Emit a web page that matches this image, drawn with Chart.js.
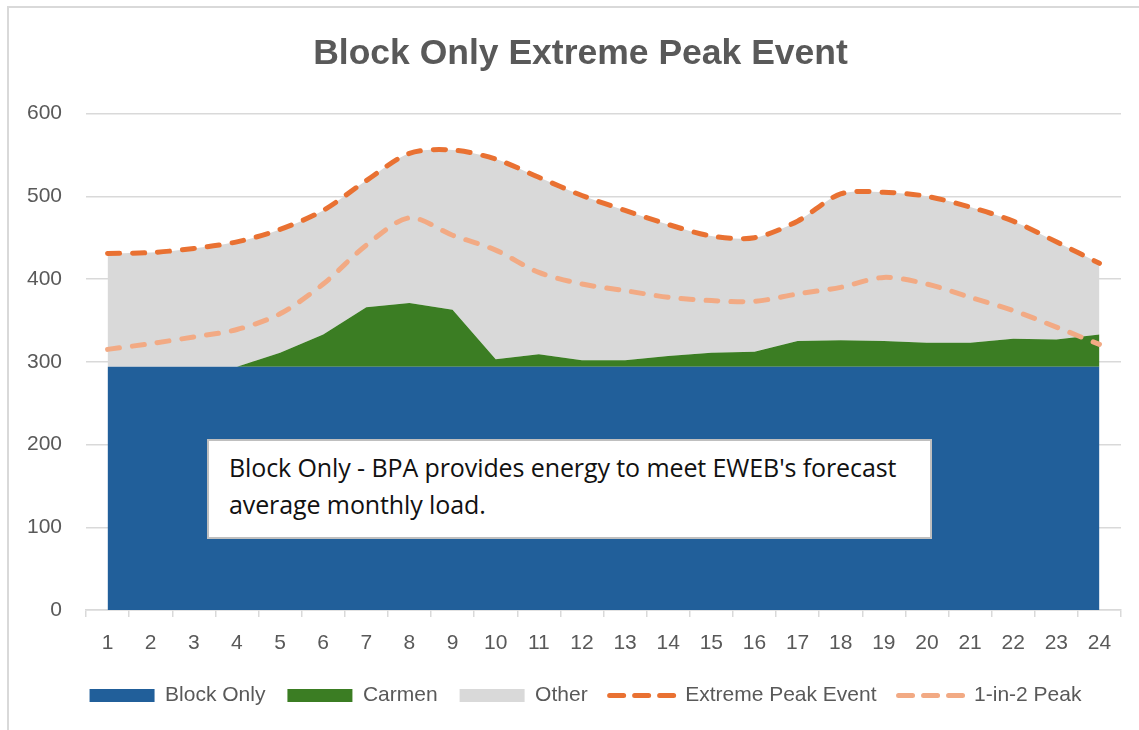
<!DOCTYPE html>
<html>
<head>
<meta charset="utf-8">
<script src="https://cdn.jsdelivr.net/npm/chart.js@4"></script>
<style>
  body { margin: 0; background: #fff; }
  #wrap { position: relative; width: 1139px; height: 730px; overflow: hidden; }
  #frame { position: absolute; left: 7px; top: 6px; width: 1200px; height: 800px; border: 2px solid #d9d9d9; box-sizing: border-box; }
  #note {
    position: absolute; left: 207px; top: 439px; width: 725px; height: 100px;
    box-sizing: border-box; border: 2px solid #bfbfbf; background: #fff;
    font-family: "Open Sans", sans-serif; font-size: 25px; line-height: 37px;
    color: #111; padding: 8px 0 0 20px; letter-spacing: -0.1px;
  }
</style>
</head>
<body>
<div id="wrap">
  <div id="frame"></div>
  <canvas id="chart" width="1139" height="730"></canvas>
  <div id="note">Block Only - BPA provides energy to meet EWEB's forecast<br>average monthly load.</div>
</div>
<script>
const hours = ['1','2','3','4','5','6','7','8','9','10','11','12','13','14','15','16','17','18','19','20','21','22','23','24'];
const blockOnly = [294,294,294,294,294,294,294,294,294,294,294,294,294,294,294,294,294,294,294,294,294,294,294,294];
const carmen = [0,0,0,0,17,39,72,77,69,9,15,8,8,13,17,18,31,32,31,29,29,34,33,39];
const other = [137,138,143,151,149,150,153,181,193,242,214,199,181,159,141,138,145,177,180,177,164,142,118,86];
const extremePeak = [431,432,437,445,460,483,519,552,556,545,523,501,483,466,452,450,470,503,505,500,487,470,445,419];
const oneInTwoPeak = [315,322,330,339,358,394,441,474,453,435,408,394,386,378,374,373,382,390,402,394,378,362,342,321];
const yTicks = [0,100,200,300,400,500,600];

const grey = '#595959';

// title and legend sit a bit right of the plot centre in the original
const shiftBlocks = {
  id: 'shiftBlocks',
  afterLayout(chart) {
    const t = chart.titleBlock, l = chart.legend;
    if (t) { t.left += 20; t.right += 20; }
    if (l) { l.left += 25; l.right += 25; }
  }
};

new Chart(document.getElementById('chart'), {
  type: 'line',
  data: {
    labels: hours,
    datasets: [
      { label: 'Block Only', data: blockOnly, backgroundColor: '#215f9a', borderWidth: 0, fill: 'origin', stack: 'areas', order: 1, tension: 0 },
      { label: 'Carmen', data: carmen, backgroundColor: '#3b7d23', borderWidth: 0, fill: '-1', stack: 'areas', order: 1, tension: 0 },
      { label: 'Other', data: other, backgroundColor: '#d9d9d9', borderWidth: 0, fill: '-1', stack: 'areas', order: 1, tension: 0.3 },
      { label: 'Extreme Peak Event', data: extremePeak, borderColor: '#e97132', borderWidth: 5, borderDash: [12, 13],
        borderCapStyle: 'round', fill: false, stack: 'ext', order: 0, tension: 0.3 },
      { label: '1-in-2 Peak', data: oneInTwoPeak, borderColor: '#f2aa84', borderWidth: 5, borderDash: [12, 13],
        borderCapStyle: 'round', fill: false, stack: 'peak', order: 0, tension: 0.3 }
    ]
  },
  plugins: [shiftBlocks],
  options: {
    responsive: false,
    animation: false,
    elements: { point: { radius: 0, hoverRadius: 0 } },
    layout: { padding: { left: 0, right: 18, top: 0, bottom: 14 } },
    plugins: {
      tooltip: { enabled: false },
      title: {
        display: true,
        text: 'Block Only Extreme Peak Event',
        color: grey,
        font: { family: '"Liberation Sans", Arial, sans-serif', size: 35.5, weight: 'bold' },
        padding: { top: 33, bottom: 38 }
      },
      legend: {
        position: 'bottom',
        labels: {
          usePointStyle: true,
          pointStyleWidth: 65,
          boxHeight: 13,
          padding: 22,
          color: grey,
          font: { family: '"Liberation Sans", Arial, sans-serif', size: 21 },
          generateLabels: (chart) => chart.data.datasets.map((ds, i) => ({
            text: ds.label,
            fillStyle: ds.fill ? ds.backgroundColor : 'rgba(0,0,0,0)',
            strokeStyle: ds.borderColor,
            lineWidth: ds.fill ? 0 : 5,
            lineDash: ds.fill ? [] : [14, 11],
            lineCap: 'round',
            pointStyle: ds.fill ? 'rect' : 'line',
            fontColor: grey,
            datasetIndex: i,
            hidden: false
          }))
        }
      }
    },
    scales: {
      x: {
        offset: true,
        grid: { display: true, drawOnChartArea: false, drawTicks: true, tickLength: 7, offset: true, color: '#d9d9d9', lineWidth: 1.5 },
        border: { display: true, color: '#d9d9d9', width: 1.5 },
        ticks: { color: grey, padding: 14, maxRotation: 0, autoSkip: false,
          font: { family: '"Liberation Sans", Arial, sans-serif', size: 21 } },
        afterFit: (s) => { s.height = 53; }
      },
      y: {
        stacked: true,
        min: 0,
        max: 600,
        afterBuildTicks: (s) => { s.ticks = yTicks.map(v => ({ value: v })); },
        grid: { color: '#d9d9d9', lineWidth: 1.5, drawTicks: false },
        border: { display: false },
        ticks: { color: grey, padding: 24,
          font: { family: '"Liberation Sans", Arial, sans-serif', size: 21 } },
        afterFit: (s) => { s.width = 86; }
      }
    }
  }
});
</script>
</body>
</html>
